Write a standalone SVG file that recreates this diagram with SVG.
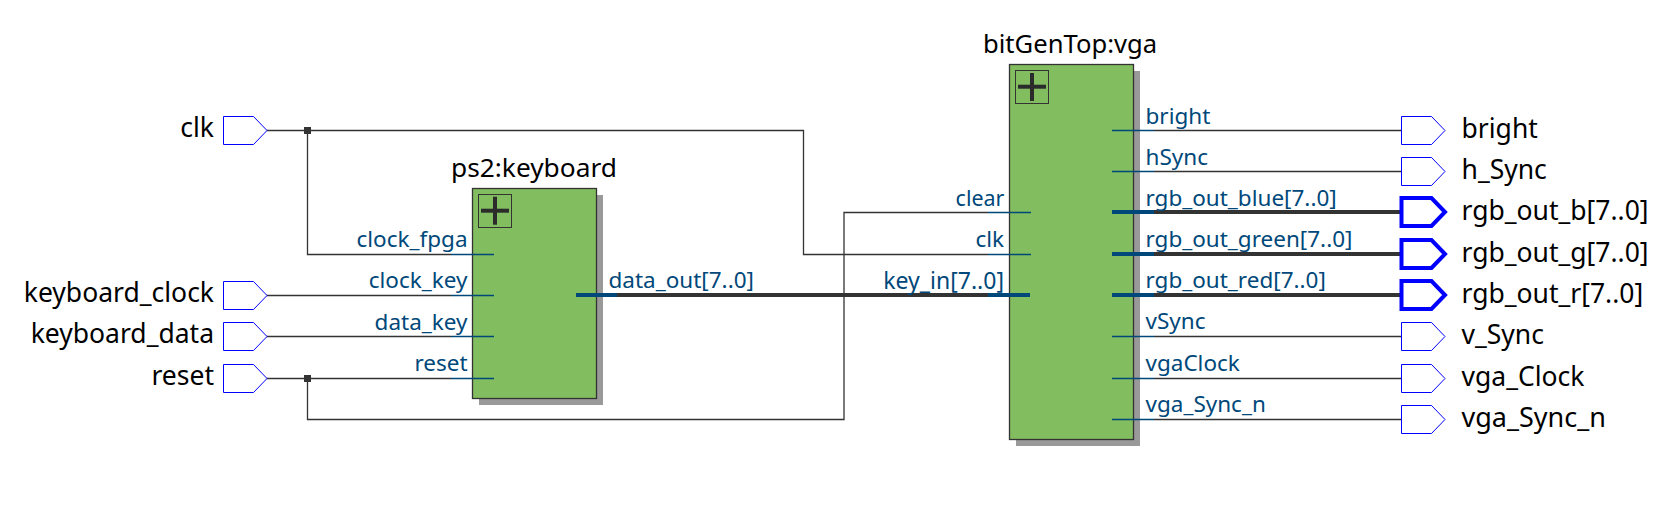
<svg xmlns="http://www.w3.org/2000/svg" width="1665" height="505" viewBox="0 0 1665 505">
<style>
text{font-family:"Noto Sans","Open Sans","Liberation Sans",sans-serif}
.t{font-size:26.500px;fill:#000}
.p{font-size:22.500px;fill:#00487a}
.e{text-anchor:end}
.w{fill:none;stroke:#333;stroke-width:1.3}
.b{fill:none;stroke:#333;stroke-width:4}
.sw{fill:none;stroke:#00487a;stroke-width:1.3}
.sb{fill:none;stroke:#00487a;stroke-width:4}
.pin{fill:#fff;stroke:#0000ff;stroke-width:1}
.pinb{fill:#fff;stroke:#0000ff;stroke-width:4}
.box{fill:#82be5f;stroke:#333;stroke-width:1.3}
.sh{fill:#999}
.pb{fill:none;stroke:#333;stroke-width:1}
.cross{fill:#2b2b2b}
.j{fill:#333}
</style>
<defs>
<path id="port" d="M0-14H30L43.500 0L30 14H0Z"/>
</defs>
<g id="connectors">
<path class="w" d="M266 130.500H803.500V254.500H988M307.500 130.500V254.500H451M266 295.500H451M266 336.500H451M266 378.500H451M307.500 378.500V419.500H844V212.500H988"/>
<path class="w" d="M1154 130.500H1401M1154 171.500H1401M1154 336.500H1401M1154 378.500H1401M1154 419.500H1401"/>
<path class="b" d="M616 295H988M1154 212H1401M1154 254H1401M1154 295H1401"/>
<rect class="j" x="304" y="127" width="7" height="7"/>
<rect class="j" x="304" y="375" width="7" height="7"/>
</g>
<g id="ps2_keyboard">
<text class="t" x="451" y="176.500" style="font-size:26.300px">ps2:keyboard</text>
<rect class="sh" x="479" y="195" width="124" height="210"/>
<rect class="box" x="472.500" y="188.500" width="124" height="210"/>
<rect class="pb" x="478.500" y="194.500" width="33" height="33"/>
<rect class="cross" x="481" y="208.700" width="28" height="4"/>
<rect class="cross" x="493" y="196.700" width="4" height="28"/>
<path class="sw" d="M451 254.500H494M451 295.500H494M451 336.500H494M451 378.500H494"/>
<path class="sb" d="M576 295H617"/>
<text class="p e" x="467.500" y="247">clock_fpga</text>
<text class="p e" x="467.500" y="288">clock_key</text>
<text class="p e" x="467.500" y="329.500">data_key</text>
<text class="p e" x="467.500" y="370.500">reset</text>
<text class="p" x="608.500" y="287.500">data_out[7..0]</text>
</g>
<g id="bitGenTop_vga">
<text class="t" x="983" y="52.500" style="font-size:25.600px">bitGenTop:vga</text>
<rect class="sh" x="1016" y="71" width="124" height="375"/>
<rect class="box" x="1009.500" y="64.500" width="124" height="375"/>
<rect class="pb" x="1015.500" y="70.500" width="33" height="33"/>
<rect class="cross" x="1018" y="84.700" width="28" height="4"/>
<rect class="cross" x="1030" y="73" width="4" height="28"/>
<path class="sw" d="M988 212.500H1031M988 254.500H1031M1112 130.500H1154M1112 171.500H1154M1112 336.500H1154M1112 378.500H1154M1112 419.500H1154"/>
<path class="sb" d="M988 295H1030M1112 212H1154M1112 254H1154M1112 295H1154"/>
<text class="p e" x="1004.500" y="205.500" style="font-size:21.500px">clear</text>
<text class="p e" x="1004" y="246.500">clk</text>
<text class="p e" x="1004" y="288.500" style="font-size:23px">key_in[7..0]</text>
<text class="p" x="1145.500" y="123.500">bright</text>
<text class="p" x="1145.500" y="164.500">hSync</text>
<text class="p" x="1145.500" y="205.500">rgb_out_blue[7..0]</text>
<text class="p" x="1145.500" y="246.500">rgb_out_green[7..0]</text>
<text class="p" x="1145.500" y="288">rgb_out_red[7..0]</text>
<text class="p" x="1145.500" y="329">vSync</text>
<text class="p" x="1145.500" y="370.500">vgaClock</text>
<text class="p" x="1145.500" y="412">vga_Sync_n</text>
</g>
<g id="in_clk"><use href="#port" class="pin" x="223.500" y="130.500"/><text class="t e" x="214" y="137">clk</text></g>
<g id="in_keyboard_clock"><use href="#port" class="pin" x="223.500" y="295.500"/><text class="t e" x="214" y="302">keyboard_clock</text></g>
<g id="in_keyboard_data"><use href="#port" class="pin" x="223.500" y="336.500"/><text class="t e" x="214" y="343">keyboard_data</text></g>
<g id="in_reset"><use href="#port" class="pin" x="223.500" y="378.500"/><text class="t e" x="214" y="385">reset</text></g>
<g id="out_bright"><use href="#port" class="pin" x="1401.500" y="130.500"/><text class="t" x="1461.500" y="137.500">bright</text></g>
<g id="out_h_Sync"><use href="#port" class="pin" x="1401.500" y="171.500"/><text class="t" x="1461.500" y="178.500">h_Sync</text></g>
<g id="out_rgb_out_b"><use href="#port" class="pinb" x="1401.500" y="212"/><text class="t" x="1461.500" y="219.500">rgb_out_b[7..0]</text></g>
<g id="out_rgb_out_g"><use href="#port" class="pinb" x="1401.500" y="254"/><text class="t" x="1461.500" y="261.500">rgb_out_g[7..0]</text></g>
<g id="out_rgb_out_r"><use href="#port" class="pinb" x="1401.500" y="295"/><text class="t" x="1461.500" y="302.500">rgb_out_r[7..0]</text></g>
<g id="out_v_Sync"><use href="#port" class="pin" x="1401.500" y="336.500"/><text class="t" x="1461.500" y="344">v_Sync</text></g>
<g id="out_vga_Clock"><use href="#port" class="pin" x="1401.500" y="378.500"/><text class="t" x="1461.500" y="385.500">vga_Clock</text></g>
<g id="out_vga_Sync_n"><use href="#port" class="pin" x="1401.500" y="419.500"/><text class="t" x="1461.500" y="426.500" style="font-size:27px">vga_Sync_n</text></g>
</svg>
